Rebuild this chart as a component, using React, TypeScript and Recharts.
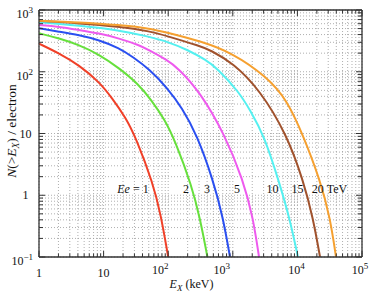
import { LineChart, Line, XAxis, YAxis, CartesianGrid, ReferenceDot } from 'recharts';

type Pt = { x: number; y: number };

const pts = (rows: number[][]): Pt[] => rows.map(([x, y]) => ({ x, y }));

// E_X (keV) -> N(>E_X) per electron
const ee1 = pts([
  [1, 285], [2.04, 199], [4.16, 128], [8.49, 69], [13.5, 37.6], [22.2, 17.8],
  [31.7, 8.45], [58, 1.58], [77, 0.48], [100, 0.1],
]);
const ee2 = pts([
  [1, 420], [2.04, 348], [4.16, 272], [8.49, 191], [17.3, 115], [34.1, 64],
  [54.2, 35.5], [89.2, 16.5], [127, 7.7], [233, 1.4], [311, 0.42], [405, 0.1],
]);
const ee3 = pts([
  [1, 506], [2.04, 446], [4.16, 394], [8.49, 327], [17.3, 243], [28.5, 173],
  [50.4, 111], [95.8, 55.6], [164, 25.9], [279, 9.46], [494, 1.77], [705, 0.44], [905, 0.1],
]);
const ee5 = pts([
  [1, 572], [2.04, 537], [4.16, 474], [8.49, 420], [17.3, 348], [35.3, 271],
  [50.4, 225], [95.8, 155], [142, 115], [311, 47], [757, 9.46], [1439, 1.77],
  [2055, 0.44], [2546, 0.1],
]);
const ee10 = pts([
  [1, 632], [4.16, 557], [17.3, 474], [50.4, 370], [95.8, 309], [203, 225],
  [384, 155], [569, 115], [1247, 47], [1845, 24], [3040, 9.46], [5380, 1.47],
  [7680, 0.4], [10200, 0.1],
]);
const ee15 = pts([
  [1, 664], [4.16, 610], [17.3, 537], [50.4, 457], [95.8, 379], [311, 261],
  [444, 225], [1007, 139], [2636, 50.6], [6900, 9.46], [12200, 1.77], [17400, 0.44],
  [22400, 0.1],
]);
const ee20 = pts([
  [1, 671], [4.16, 632], [17.3, 572], [50.4, 506], [95.8, 433], [311, 315],
  [1007, 201], [3380, 82.2], [6900, 34.9], [12200, 9.46], [22400, 1.77],
  [32000, 0.44], [39600, 0.1],
]);

const series = [
  { key: 'ee1', color: '#f04028', data: ee1 },
  { key: 'ee2', color: '#66e03c', data: ee2 },
  { key: 'ee3', color: '#2a4ff0', data: ee3 },
  { key: 'ee5', color: '#ee5aee', data: ee5 },
  { key: 'ee10', color: '#55f0f0', data: ee10 },
  { key: 'ee15', color: '#a0522d', data: ee15 },
  { key: 'ee20', color: '#f5a030', data: ee20 },
];

const xMajor = [1, 10, 100, 1000, 10000, 100000];
const yMajor = [0.1, 1, 10, 100, 1000];

// curve annotations, placed in data coordinates
const notes = [
  { text: '1', x: 28.5, y: 1.28, prefix: true },
  { text: '2', x: 189, y: 1.28 },
  { text: '3', x: 398, y: 1.28 },
  { text: '5', x: 1161, y: 1.28 },
  { text: '10', x: 4120, y: 1.28 },
  { text: '15', x: 10000, y: 1.28 },
  { text: '20 TeV', x: 31400, y: 1.28 },
];

const withMinor = (majors: number[]) =>
  majors.flatMap((m, i) =>
    i === majors.length - 1 ? [m] : [1, 2, 3, 4, 5, 6, 7, 8, 9].map((k) => m * k)
  );

const xTicks = withMinor(xMajor);
const yTicks = withMinor(yMajor);

const FONT = 'Liberation Serif, Times New Roman, Times, serif';
const AXIS = '#333';
const txt = { fontFamily: FONT };

// small nudges so the x labels sit where the original put them
const xLabelShift: Record<number, number> = { 100: -8, 1000: -11, 10000: -1, 100000: -2 };

const expOf = (v: number) => Math.round(Math.log10(v));
const supText = (e: number) => (e < 0 ? '\u2212' + Math.abs(e) : String(e));

const XTick = ({ x, y, payload }: any) => {
  const v = payload.value;
  const major = xMajor.includes(v);
  const e = expOf(v);
  return (
    <g>
      <line x1={x} x2={x} y1={y} y2={y - (major ? 6 : 3.5)} stroke={AXIS} strokeWidth={1} />
      {major &&
        (e === 0 || e === 1 ? (
          <text x={x} y={y + 19.5} textAnchor="middle" style={txt} fontSize={12} fill="#111">
            {e === 0 ? '1' : '10'}
          </text>
        ) : (
          <text x={x + (xLabelShift[v] ?? 0)} y={y + 16.5} textAnchor="middle" style={txt} fontSize={12} fill="#111">
            10<tspan dy={-5} fontSize={9}>{supText(e)}</tspan>
          </text>
        ))}
    </g>
  );
};

const XTopTick = ({ x, y, payload }: any) => {
  const major = xMajor.includes(payload.value);
  return <line x1={x} x2={x} y1={y} y2={y + (major ? 6 : 3.5)} stroke={AXIS} strokeWidth={1} />;
};

const YTick = ({ x, y, payload }: any) => {
  const v = payload.value;
  const major = yMajor.includes(v);
  const e = expOf(v);
  return (
    <g>
      <line x1={x} x2={x + (major ? 6 : 4)} y1={y} y2={y} stroke={AXIS} strokeWidth={1} />
      {major &&
        (e === 0 || e === 1 ? (
          <text x={x - 13.5} y={y + 4} textAnchor="middle" style={txt} fontSize={12} fill="#111">
            {e === 0 ? '1' : '10'}
          </text>
        ) : (
          <text x={x - 6} y={y + 8} textAnchor="end" style={txt} fontSize={12} fill="#111">
            10<tspan dy={-5} fontSize={9}>{supText(e)}</tspan>
          </text>
        ))}
    </g>
  );
};

const YRightTick = ({ x, y, payload }: any) => {
  const major = yMajor.includes(payload.value);
  return <line x1={x} x2={x - (major ? 6 : 4)} y1={y} y2={y} stroke={AXIS} strokeWidth={1} />;
};

const noteLabel = (text: string, prefix?: boolean) => (p: any) => {
  const vb = p.viewBox || {};
  const cx = (vb.x ?? 0) + (vb.width ?? 0) / 2;
  const cy = (vb.y ?? 0) + (vb.height ?? 0) / 2;
  return (
    <text x={cx} y={cy + 4} textAnchor="middle" style={txt} fontSize={12} fill="#111">
      {prefix && <tspan fontStyle="italic">Ee</tspan>}
      {prefix ? ' = ' + text : text}
    </text>
  );
};

const axisLine = { stroke: AXIS, strokeWidth: 1.3 };

export default function App() {
  return (
    <div style={{ position: 'absolute', left: 0, top: 0 }}>
      <LineChart width={382} height={297} margin={{ top: 0, right: 0, bottom: 0, left: 0 }}>
        <CartesianGrid stroke="#9a9a9a" strokeDasharray="1 2" strokeWidth={0.8} />
        <XAxis
          dataKey="x"
          type="number"
          scale="log"
          domain={[1, 100000]}
          ticks={xTicks}
          interval={0}
          allowDataOverflow
          height={40}
          tickSize={0}
          tickMargin={0}
          tickLine={false}
          axisLine={axisLine}
          tick={<XTick />}
          label={(p: any) => {
            const vb = p.viewBox || {};
            return (
              <text x={(vb.x ?? 39) + (vb.width ?? 323) / 2 - 9} y={288} textAnchor="middle" style={txt} fontSize={12} fill="#111">
                <tspan fontStyle="italic">E</tspan>
                <tspan fontStyle="italic" fontSize={9} dy={3}>X</tspan>
                <tspan dy={-3}> (keV)</tspan>
              </text>
            );
          }}
        />
        <XAxis
          xAxisId="top"
          orientation="top"
          dataKey="x"
          type="number"
          scale="log"
          domain={[1, 100000]}
          ticks={xTicks}
          interval={0}
          allowDataOverflow
          height={10}
          tickSize={0}
          tickMargin={0}
          tickLine={false}
          axisLine={axisLine}
          tick={<XTopTick />}
        />
        <YAxis
          type="number"
          scale="log"
          domain={[0.1, 1000]}
          ticks={yTicks}
          interval={0}
          allowDataOverflow
          width={39}
          tickSize={0}
          tickMargin={0}
          tickLine={false}
          axisLine={axisLine}
          tick={<YTick />}
          label={() => (
            <text x={15.5} y={131} transform="rotate(-90 15.5 131)" textAnchor="middle" style={txt} fontSize={13.5} fill="#111">
              <tspan fontStyle="italic">N</tspan>
              <tspan>(&gt;</tspan>
              <tspan fontStyle="italic">E</tspan>
              <tspan fontStyle="italic" fontSize={9.5} dy={3}>X</tspan>
              <tspan dy={-3}>) / electron</tspan>
            </text>
          )}
        />
        <YAxis
          yAxisId="right"
          orientation="right"
          type="number"
          scale="log"
          domain={[0.1, 1000]}
          ticks={yTicks}
          interval={0}
          allowDataOverflow
          width={20}
          tickSize={0}
          tickMargin={0}
          tickLine={false}
          axisLine={axisLine}
          tick={<YRightTick />}
        />
        {series.map((s) => (
          <Line
            key={s.key}
            data={s.data}
            dataKey="y"
            type="basis"
            stroke={s.color}
            strokeWidth={2}
            dot={false}
            isAnimationActive={false}
          />
        ))}
        {notes.map((n) => (
          <ReferenceDot
            key={n.text}
            x={n.x}
            y={n.y}
            r={1}
            fill="none"
            stroke="none"
            label={noteLabel(n.text, n.prefix)}
          />
        ))}
      </LineChart>
    </div>
  );
}
